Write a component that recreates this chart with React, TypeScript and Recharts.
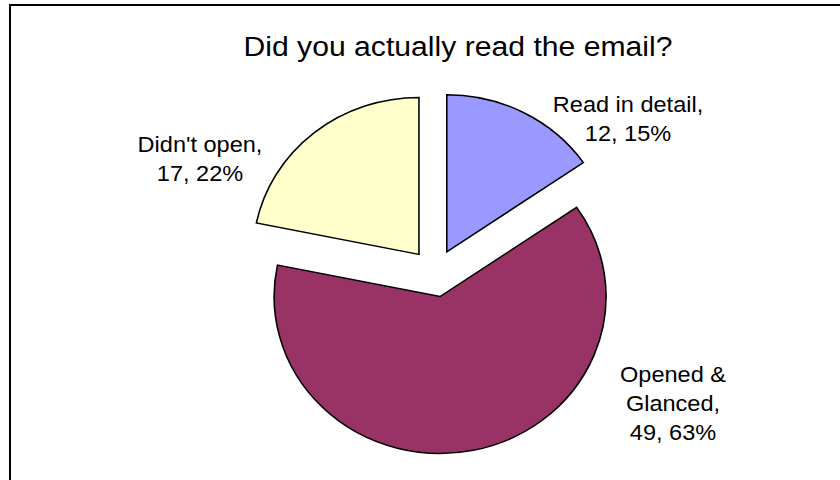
import React from "react";
import { PieChart, Pie, Cell, Sector } from "recharts";

const categories = ["Read in detail", "Opened &\nGlanced", "Didn't open"];
const counts = [12, 49, 17];
const colors = ["#9999FF", "#993366", "#FFFFCC"];

const data = categories.map((name, i) => ({ name, value: counts[i] }));

const CX = 435;
const CY = 273;
const RADIUS = 157;
const STRETCH_X = 1.057;
const EXPLODE = 24;
const RAD = Math.PI / 180;

// where Excel placed each label, relative to the pie centre
const labelOffset: Record<string, [number, number]> = {
  "Read in detail": [193, -161],
  "Opened &\nGlanced": [238, 109],
  "Didn't open": [-235, -121],
};

function ExplodedSlice(props: any) {
  const { cx, cy, midAngle } = props;
  const dx = EXPLODE * Math.cos(midAngle * RAD);
  const dy = -EXPLODE * Math.sin(midAngle * RAD);
  return (
    <g
      transform={`translate(${cx} ${cy}) scale(${STRETCH_X} 1) translate(${-cx + dx} ${-cy + dy})`}
    >
      <Sector {...props} />
    </g>
  );
}

function renderLabel(props: any) {
  const { cx, cy, name, value, percent } = props;
  const [ox, oy] = labelOffset[name] || [0, 0];
  const lines = name.split("\n");
  lines[lines.length - 1] += ",";
  lines.push(`${value}, ${Math.round(percent * 100)}%`);
  return (
    <text
      transform={`translate(${cx + ox} ${cy + oy}) scale(1.07 1)`}
      x={0}
      y={0}
      textAnchor="middle"
      fontFamily="'Liberation Sans', Arial, sans-serif"
      fontSize={22}
      fill="#000"
    >
      {lines.map((l: string, i: number) => (
        <tspan key={i} x={0} dy={i === 0 ? 0 : 29}>
          {l}
        </tspan>
      ))}
    </text>
  );
}

export default function App() {
  return (
    <div
      style={{
        position: "fixed",
        left: 0,
        top: 0,
        width: 840,
        height: 480,
        overflow: "hidden",
        background: "#fff",
      }}
    >
      <div
        style={{
          position: "absolute",
          left: 9,
          top: 4,
          width: 840,
          height: 480,
          border: "2px solid #000",
        }}
      />
      <svg
        width={840}
        height={480}
        style={{ position: "absolute", left: 0, top: 0 }}
      >
        <text
          x={458}
          y={56}
          textAnchor="middle"
          fontFamily="'Liberation Sans', Arial, sans-serif"
          fontSize={27}
          textLength={429}
          lengthAdjust="spacingAndGlyphs"
          fill="#000"
        >
          Did you actually read the email?
        </text>
      </svg>
      <div style={{ position: "absolute", left: 0, top: 0 }}>
        <PieChart
          width={840}
          height={480}
          margin={{ top: 0, right: 0, bottom: 0, left: 0 }}
        >
          <Pie
            data={data}
            dataKey="value"
            nameKey="name"
            cx={CX}
            cy={CY}
            outerRadius={RADIUS}
            startAngle={90}
            endAngle={-270}
            stroke="#000"
            strokeWidth={1.5}
            label={renderLabel}
            labelLine={false}
            shape={ExplodedSlice}
            inactiveShape={ExplodedSlice}
            activeShape={ExplodedSlice}
            isAnimationActive={false}
          >
            {data.map((d, i) => (
              <Cell key={d.name} fill={colors[i]} />
            ))}
          </Pie>
        </PieChart>
      </div>
    </div>
  );
}
